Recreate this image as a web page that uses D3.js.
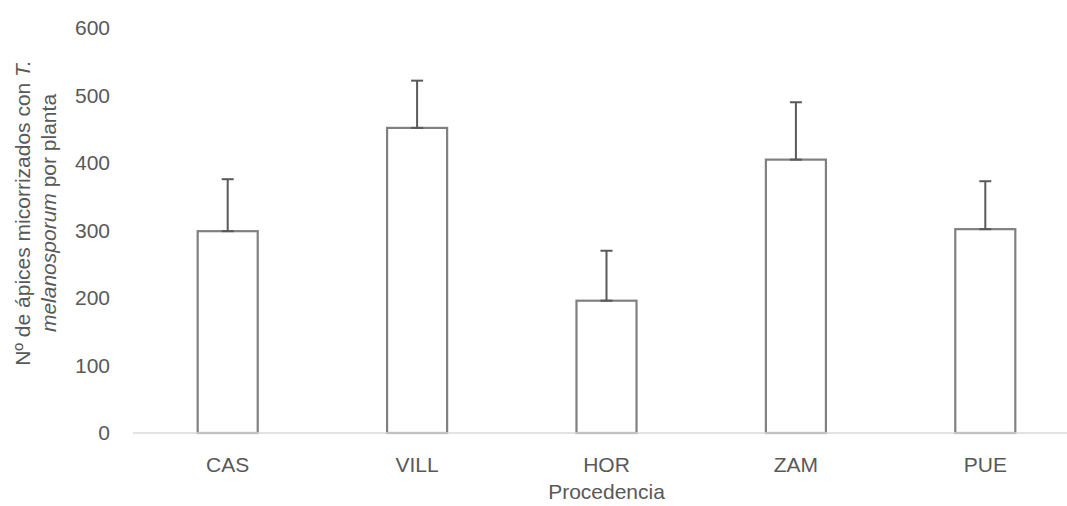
<!DOCTYPE html>
<html>
<head>
<meta charset="utf-8">
<script src="https://cdn.jsdelivr.net/npm/d3@7"></script>
<style>
  body { margin: 0; background: #fff; }
  text { font-family: "Liberation Sans", Arial, sans-serif; fill: #595959; }
</style>
</head>
<body>
<div id="chart"></div>
<script>
// data
const categories = ["CAS", "VILL", "HOR", "ZAM", "PUE"];
const means = [299, 452, 196, 405, 302];
const errors = [77, 70, 74, 85, 71];
const yTicks = [0, 100, 200, 300, 400, 500, 600];

const W = 1067, H = 506;
const margin = { top: 28, right: -13, bottom: 73, left: 133 };
const width = W - margin.left - margin.right,
      height = H - margin.top - margin.bottom;
const fs = "21px";

const svg = d3.select("#chart")
  .append("svg")
    .attr("width", W)
    .attr("height", H)
  .append("g")
    .attr("transform", "translate(" + margin.left + "," + margin.top + ")");

let x = d3.scaleBand()
  .domain(categories)
  .range([0, width])
  .paddingInner(0.683)
  .paddingOuter(0.3415);

let y = d3.scaleLinear()
  .domain([0, 600])
  .range([height, 0]);

// y tick labels (no axis line, no gridlines)
svg.append("g")
  .selectAll("text")
  .data(yTicks)
  .enter().append("text")
    .attr("x", -23)
    .attr("y", d => y(d))
    .attr("dy", "0.35em")
    .attr("text-anchor", "end")
    .style("font-size", fs)
    .text(d => d);

// bars
const bars = categories.map((c, i) => ({ cat: c, v: means[i], e: errors[i] }));

svg.append("g")
  .selectAll("rect")
  .data(bars)
  .enter().append("rect")
    .attr("x", d => x(d.cat))
    .attr("y", d => y(d.v))
    .attr("width", x.bandwidth())
    .attr("height", d => height - y(d.v))
    .attr("fill", "#fff")
    .attr("stroke", "#808080")
    .attr("stroke-width", 2.2);

// x axis line
svg.append("line")
  .attr("x1", 0).attr("x2", width)
  .attr("y1", y(0)).attr("y2", y(0))
  .attr("stroke", "#d9d9d9")
  .attr("stroke-width", 1.5);

// error bars
const err = svg.append("g").attr("stroke", "#595959").attr("stroke-width", 2);
const cx = d => x(d.cat) + x.bandwidth() / 2;
err.selectAll(".whisker")
  .data(bars).enter().append("line")
    .attr("x1", cx).attr("x2", cx)
    .attr("y1", d => y(d.v)).attr("y2", d => y(d.v + d.e));
err.selectAll(".capTop")
  .data(bars).enter().append("line")
    .attr("x1", d => cx(d) - 6).attr("x2", d => cx(d) + 6)
    .attr("y1", d => y(d.v + d.e)).attr("y2", d => y(d.v + d.e));
err.selectAll(".capBase")
  .data(bars).enter().append("line")
    .attr("x1", d => cx(d) - 6).attr("x2", d => cx(d) + 6)
    .attr("y1", d => y(d.v)).attr("y2", d => y(d.v));

// category labels
svg.append("g")
  .selectAll("text")
  .data(categories)
  .enter().append("text")
    .attr("x", d => x(d) + x.bandwidth() / 2)
    .attr("y", height + 32)
    .attr("dy", "0.35em")
    .attr("text-anchor", "middle")
    .style("font-size", fs)
    .text(d => d);

// x title
svg.append("text")
  .attr("x", width / 2)
  .attr("y", 492 - margin.top)
  .attr("dy", "0.35em")
  .attr("text-anchor", "middle")
  .style("font-size", fs)
  .text("Procedencia");

// y title, two lines
const yt = d3.select("svg").append("g")
  .attr("transform", "translate(0,213) rotate(-90)");
const l1 = yt.append("text")
  .attr("x", 0).attr("y", 23).attr("dy", "0.35em")
  .attr("text-anchor", "middle")
  .style("font-size", fs);
l1.append("tspan").text("Nº de ápices micorrizados con ");
l1.append("tspan").style("font-style", "italic").text("T.");
const l2 = yt.append("text")
  .attr("x", 0).attr("y", 49).attr("dy", "0.35em")
  .attr("text-anchor", "middle")
  .style("font-size", fs);
l2.append("tspan").style("font-style", "italic").text("melanosporum");
l2.append("tspan").text(" por planta");
</script>
</body>
</html>
